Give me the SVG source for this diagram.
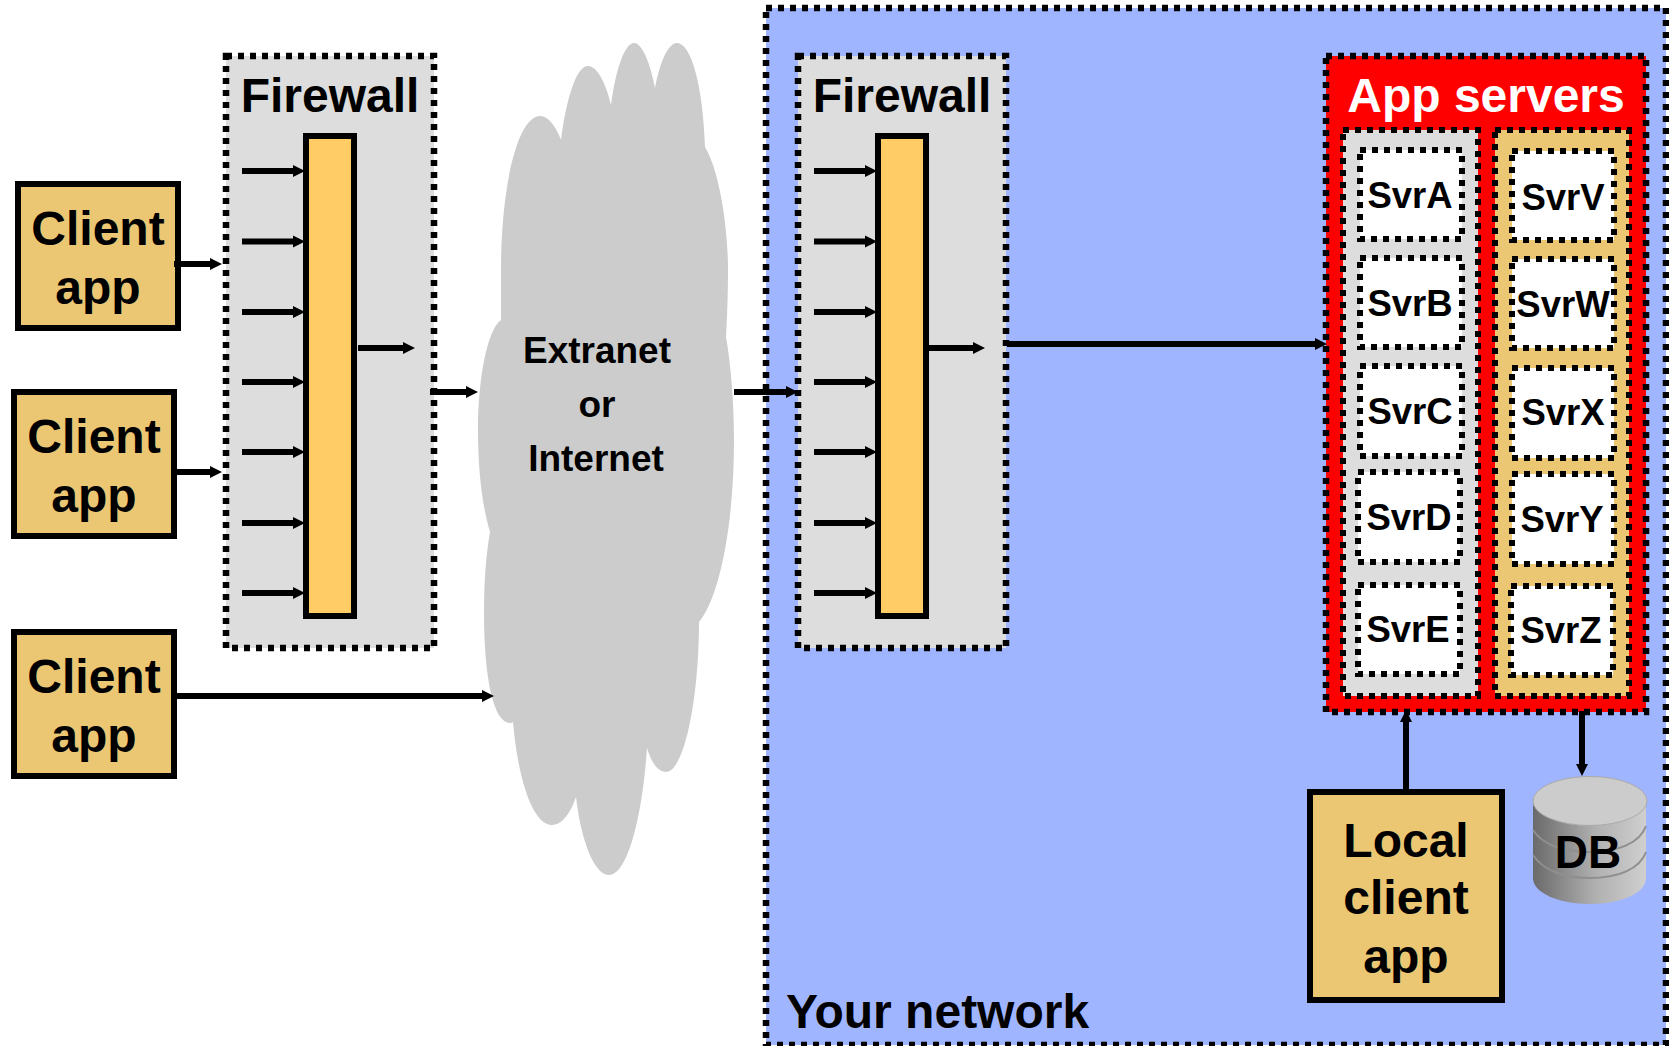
<svg xmlns="http://www.w3.org/2000/svg" width="1669" height="1046" viewBox="0 0 1669 1046">
<style>
text{font-family:"Liberation Sans",Arial,sans-serif;font-weight:bold;fill:#000;text-anchor:middle}
.t48{font-size:48px}
.t37{font-size:37px}
.sv{font-size:36.5px}
.app{fill:#EBC673;stroke:#000;stroke-width:6}
.bar{fill:#FFCC66;stroke:#000;stroke-width:6}
.zone{stroke:#000;stroke-width:6.500;stroke-dasharray:6 6}
.col{stroke:#000;stroke-width:6;stroke-dasharray:6 6}
.svr{fill:#fff;stroke:#000;stroke-width:6;stroke-dasharray:6 6}
.c{fill:none;stroke:#000;stroke-width:6;marker-end:url(#ah)}
</style>
<defs>
<marker id="ah" markerUnits="userSpaceOnUse" markerWidth="13" markerHeight="13" refX="6" refY="6.5" orient="auto"><path d="M0,0.5 L12,6.5 L0,12.5 Z" fill="#000"/></marker>
<linearGradient id="dbg" x1="0" x2="1" y1="0" y2="0"><stop offset="0" stop-color="#6a6a6a"/><stop offset="0.55" stop-color="#b0b0b0"/><stop offset="1" stop-color="#cfcfcf"/></linearGradient>
</defs>
<rect width="1669" height="1046" fill="#fff"/>
<g id="your-network">
<rect class="zone" x="766" y="8" width="900" height="1037" fill="#A0B5FF"/>
<text class="t48" x="786" y="1028" style="text-anchor:start">Your network</text>
</g>
<g id="firewall-1">
<rect class="zone" x="226" y="56" width="208" height="592" fill="#DDDDDD"/>
<text class="t48" x="330" y="112">Firewall</text>
<rect class="bar" x="306" y="136" width="48" height="480"/>
</g>
<g id="firewall-2">
<rect class="zone" x="798" y="56" width="208" height="592" fill="#DDDDDD"/>
<text class="t48" x="902" y="112">Firewall</text>
<rect class="bar" x="878" y="136" width="48" height="480"/>
</g>
<g id="cloud">
<path fill="#CCCCCC" d="M501,320 L501,270 C501,185 518,116 540,116 C549,116 556,127 561,140 C567,95 577,66 588,66 C597,66 606,83 611,105 C616,68 625,43 634,43 C642,43 650,62 655,88 C660,62 668,43 677,43 C691,43 703,85 705,147 C719,170 728,225 728,270 C728,295 727,320 726,337 C731,365 734,405 734,440 C734,530 718,600 699,622 C699,700 684,772 666,772 C658,772 651,762 647,748 C642,820 627,875 609,875 C594,875 581,840 576,797 C570,815 561,825 552,825 C533,825 518,780 513,722 C512,723 511,723 510,723 C494,723 484,680 484,613 C484,580 486,555 490,532 C482,505 478,470 478,430 C478,380 487,330 501,320 Z"/>
<text class="t37" x="597" y="363">Extranet</text>
<text class="t37" x="597" y="417">or</text>
<text class="t37" x="596" y="471">Internet</text>
</g>
<g id="client-1">
<rect class="app" x="18" y="184" width="160" height="144"/>
<text class="t48" x="98" y="245">Client</text>
<text class="t48" x="98" y="304">app</text>
</g>
<g id="client-2">
<rect class="app" x="14" y="392" width="160" height="144"/>
<text class="t48" x="94" y="453">Client</text>
<text class="t48" x="94" y="512">app</text>
</g>
<g id="client-3">
<rect class="app" x="14" y="632" width="160" height="144"/>
<text class="t48" x="94" y="693">Client</text>
<text class="t48" x="94" y="752">app</text>
</g>
<g id="app-servers">
<rect class="zone" x="1326" y="56" width="320" height="656" fill="#FF0000"/>
<text class="t48" x="1486" y="112" style="fill:#fff">App servers</text>
<rect class="col" x="1343" y="130" width="135" height="566" fill="#DDDDDD"/>
<rect class="col" x="1495" y="130" width="134" height="566" fill="#EBC673"/>
</g>
<g id="svr-a"><rect class="svr" x="1360" y="150" width="102" height="89"/><text class="sv" x="1410" y="208">SvrA</text></g>
<g id="svr-b"><rect class="svr" x="1360" y="258" width="102" height="89"/><text class="sv" x="1410" y="316">SvrB</text></g>
<g id="svr-c"><rect class="svr" x="1360" y="366" width="102" height="90"/><text class="sv" x="1410" y="424">SvrC</text></g>
<g id="svr-d"><rect class="svr" x="1358" y="472" width="102" height="90"/><text class="sv" x="1409" y="530">SvrD</text></g>
<g id="svr-e"><rect class="svr" x="1358" y="585" width="102" height="89"/><text class="sv" x="1408" y="642">SvrE</text></g>
<g id="svr-v"><rect class="svr" x="1512" y="151" width="102" height="89"/><text class="sv" x="1563" y="210">SvrV</text></g>
<g id="svr-w"><rect class="svr" x="1512" y="259" width="102" height="89"/><text class="sv" x="1563" y="317">SvrW</text></g>
<g id="svr-x"><rect class="svr" x="1512" y="368" width="102" height="90"/><text class="sv" x="1563" y="425">SvrX</text></g>
<g id="svr-y"><rect class="svr" x="1512" y="474" width="102" height="90"/><text class="sv" x="1562" y="532">SvrY</text></g>
<g id="svr-z"><rect class="svr" x="1511" y="586" width="102" height="89"/><text class="sv" x="1561" y="643">SvrZ</text></g>
<g id="local-client">
<rect class="app" x="1310" y="792" width="192" height="208"/>
<text class="t48" x="1406" y="857">Local</text>
<text class="t48" x="1406" y="914">client</text>
<text class="t48" x="1406" y="973">app</text>
</g>
<g id="db">
<path d="M1533,801 V878 C1533,893 1559,904 1590,904 C1621,904 1646,893 1646,878 V801 Z" fill="url(#dbg)"/>
<path d="M1533,830 C1542,844 1562,852 1590,852 C1618,852 1640,843 1646,826 M1533,855 C1542,869 1562,878 1590,878 C1618,878 1640,869 1646,852" fill="none" stroke="#8f8f8f" stroke-width="2"/>
<ellipse cx="1590" cy="801" rx="57" ry="24.5" fill="#CCCCCC" stroke="#aaaaaa" stroke-width="1"/>
<text x="1588" y="868" style="font-size:46px">DB</text>
</g>
<g id="connectors">
<path class="c" d="M242,171 H299"/><path class="c" d="M242,241.500 H299"/><path class="c" d="M242,312 H299"/><path class="c" d="M242,382 H299"/><path class="c" d="M242,452 H299"/><path class="c" d="M242,523 H299"/><path class="c" d="M242,593 H299"/>
<path class="c" d="M814,171 H871"/><path class="c" d="M814,241.500 H871"/><path class="c" d="M814,312 H871"/><path class="c" d="M814,382 H871"/><path class="c" d="M814,452 H871"/><path class="c" d="M814,523 H871"/><path class="c" d="M814,593 H871"/>
<path class="c" d="M358,348 H409"/>
<path class="c" d="M928,348 H979"/>
<path class="c" d="M174,264 H216"/>
<path class="c" d="M174,472 H216"/>
<path class="c" d="M174,696 H488"/>
<path class="c" d="M430,392 H472"/>
<path class="c" d="M734,392 H792"/>
<path class="c" d="M1007,344 H1321"/>
<path class="c" d="M1406,789 V716"/>
<path class="c" d="M1582,711 V770"/>
</g>
</svg>
